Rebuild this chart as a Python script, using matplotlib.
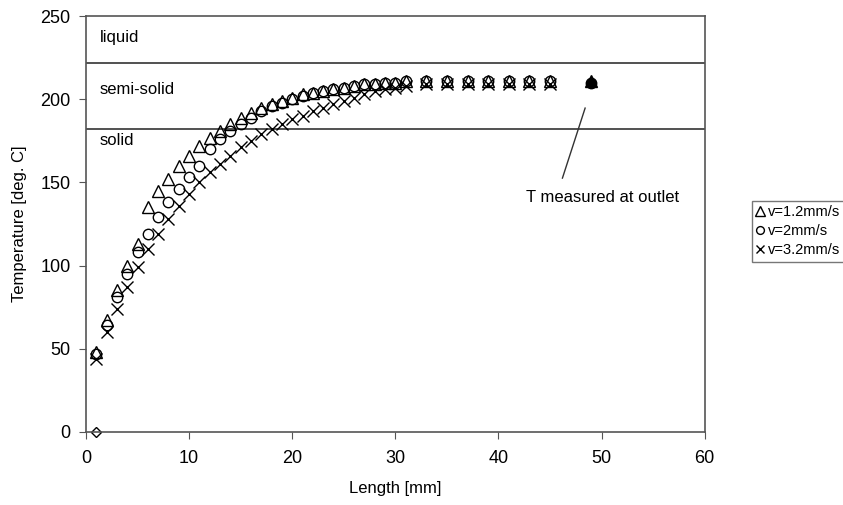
import matplotlib
matplotlib.use('Agg')
import matplotlib.pyplot as plt

plt.rcParams['font.family'] = ['Liberation Sans', 'DejaVu Sans']

# positions along the die [mm]
length = list(range(1, 32)) + [33, 35, 37, 39, 41, 43, 45]

temp_v12 = [48, 67, 85, 100, 113, 135, 145, 152, 160, 166, 172, 177, 181, 185, 189,
            192, 195, 197, 199, 201, 203, 204, 205, 206, 207, 208, 209, 209, 210, 210,
            211, 211, 211, 211, 211, 211, 211, 211]
temp_v2 = [47, 64, 81, 95, 108, 119, 129, 138, 146, 153, 160, 170, 176, 181, 185,
           189, 193, 196, 198, 200, 202, 204, 205, 206, 207, 208, 209, 209, 210, 210,
           211, 211, 211, 211, 211, 211, 211, 211]
temp_v32 = [44, 60, 74, 87, 99, 110, 119, 128, 136, 143, 150, 156, 161, 166, 171,
            175, 179, 182, 185, 188, 190, 193, 195, 197, 199, 201, 203, 205, 206, 207,
            208, 209, 209, 209, 209, 209, 209, 209]

outlet_x, outlet_t = 49, 211
start_x, start_t = 1, 0

liquidus = 222
solidus = 182

fig = plt.figure(figsize=(8.43, 5.05), dpi=100)
ax = fig.add_axes([0.102, 0.145, 0.734, 0.823])

ax.axhline(liquidus, color='#333333', lw=1.2)
ax.axhline(solidus, color='#333333', lw=1.2)

ax.plot(length, temp_v12, ls='none', marker='^', ms=9, mfc='none', mec='black', mew=1.0,
        label='v=1.2mm/s')
ax.plot(length, temp_v2, ls='none', marker='o', ms=7.5, mfc='none', mec='black', mew=1.0,
        label='v=2mm/s')
ax.plot(length, temp_v32, ls='none', marker='x', ms=8, color='black', mew=1.0,
        label='v=3.2mm/s')

ax.plot([outlet_x], [outlet_t], ls='none', marker='^', ms=9, color='black')
ax.plot([outlet_x], [outlet_t - 1], ls='none', marker='o', ms=7.5, color='black')
ax.plot([start_x], [start_t], ls='none', marker='D', ms=5.5, mfc='none', mec='black',
        mew=1.0, clip_on=False)

ax.plot([46.2, 48.4], [152.6, 194.7], color='#333333', lw=1.0)
ax.text(42.7, 141, 'T measured at outlet', fontsize=12, va='center', ha='left')

ax.text(1.3, 237, 'liquid', fontsize=12, va='center')
ax.text(1.3, 206, 'semi-solid', fontsize=12, va='center')
ax.text(1.3, 175.5, 'solid', fontsize=12, va='center')

ax.set_xlim(0, 60)
ax.set_ylim(0, 250)
ax.set_xticks(range(0, 61, 10))
ax.set_yticks(range(0, 251, 50))
ax.tick_params(direction='out', length=5, labelsize=13, color='#555555')
ax.tick_params(axis='x', pad=8)
ax.tick_params(axis='y', pad=6)
for s in ax.spines.values():
    s.set_color('#555555')
    s.set_linewidth(1.2)

ax.set_xlabel('Length [mm]', fontsize=12, labelpad=10)
ax.set_ylabel('Temperature [deg. C]', fontsize=12, labelpad=10)

leg = ax.legend(loc='center left', bbox_to_anchor=(1.077, 0.483), fontsize=10.5,
                frameon=True, fancybox=False, edgecolor='#555555', handlelength=0.5,
                handletextpad=0.3, borderpad=0.3, labelspacing=0.35, borderaxespad=0,
                markerscale=0.75)
leg.get_frame().set_linewidth(1.0)

fig.savefig('out.png', dpi=100)
